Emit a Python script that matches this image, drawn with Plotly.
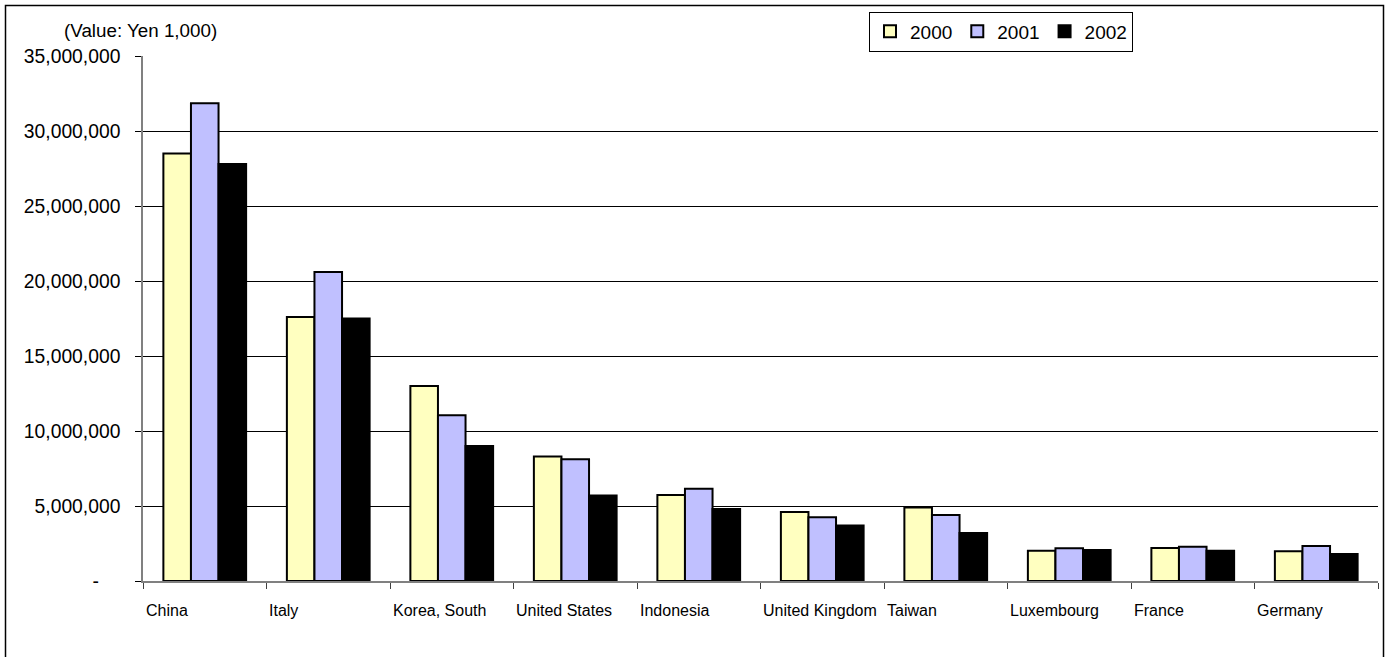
import plotly.graph_objects as go

countries = ["China", "Italy", "Korea, South", "United States", "Indonesia",
             "United Kingdom", "Taiwan", "Luxembourg", "France", "Germany"]
years = ["2000", "2001", "2002"]
v2000 = [28500000, 17600000, 13000000, 8300000, 5730000, 4600000, 4900000, 2020000, 2200000, 1980000]
v2001 = [31850000, 20600000, 11050000, 8120000, 6150000, 4250000, 4400000, 2180000, 2290000, 2330000]
v2002 = [27800000, 17500000, 9000000, 5700000, 4800000, 3700000, 3200000, 2070000, 2020000, 1800000]
ytick_vals = [0, 5000000, 10000000, 15000000, 20000000, 25000000, 30000000, 35000000]
ytick_text = ["-\u00a0\u00a0\u00a0\u00a0", "5,000,000", "10,000,000", "15,000,000",
              "20,000,000", "25,000,000", "30,000,000", "35,000,000"]
colors = ["#FFFFC0", "#C0C0FF", "#000000"]

FONT = "Arial, Liberation Sans, sans-serif"
W, H = 1392, 657
X0, X1, Y0, Y1 = 143, 1378, 56, 581  # plot area in page pixels
L, T, R, B = X0, Y0, W - X1, H - Y1
pw, ph = X1 - X0, Y1 - Y0

def px_x(p):
    return (p - X0) / pw

def px_y(p):
    return (Y1 - p) / ph

fig = go.Figure()
for name, vals, c in zip(years, [v2000, v2001, v2002], colors):
    fig.add_trace(go.Bar(x=countries, y=vals, name=name,
                         marker=dict(color=c, line=dict(color="black", width=2))))

annotations = [dict(text="(Value: Yen 1,000)", x=px_x(62), y=px_y(31), xref="paper", yref="paper",
                    xanchor="left", yanchor="middle", showarrow=False,
                    font=dict(family=FONT, size=18.8, color="black"))]
slot = pw / len(countries)
for c in countries:
    annotations.append(dict(text=c, x=c, y=px_y(610), xref="x", yref="paper",
                            xanchor="left", yanchor="middle", xshift=-slot / 2 + 0.5,
                            showarrow=False, font=dict(family=FONT, size=16, color="black")))

fig.update_layout(
    width=W, height=H,
    margin=dict(l=L, r=R, t=T, b=B, autoexpand=False),
    plot_bgcolor="white", paper_bgcolor="white",
    barmode="group", bargap=0.33, bargroupgap=0,
    font=dict(family=FONT, color="black"),
    showlegend=True,
    legend=dict(orientation="h", x=px_x(869), y=px_y(11.5), xanchor="left", yanchor="top",
                bordercolor="black", borderwidth=1, bgcolor="white",
                font=dict(family=FONT, size=19, color="black"),
                itemwidth=30, tracegroupgap=0),
    annotations=annotations,
    shapes=[dict(type="rect", xref="paper", yref="paper",
                 x0=px_x(5.5), x1=px_x(1383.5), y0=px_y(662), y1=px_y(5.5),
                 line=dict(color="black", width=1.5), fillcolor="rgba(0,0,0,0)", layer="above")],
)
fig.update_xaxes(showticklabels=False, showline=True, linecolor="#808080", linewidth=1.5,
                 ticks="outside", tickson="boundaries", ticklen=6, tickcolor="#404040",
                 showgrid=False)
fig.update_yaxes(range=[0, 35000000], tickvals=ytick_vals, ticktext=ytick_text,
                 showgrid=True, gridcolor="black", gridwidth=1, zeroline=False,
                 showline=True, linecolor="#808080", linewidth=1.5,
                 ticks="outside", ticklen=6, tickcolor="black",
                 ticklabelstandoff=11,
                 tickfont=dict(family=FONT, size=19.3, color="black"))

fig.write_html("out.html", config={"displayModeBar": False},
               post_script="document.body.style.margin='0';document.body.style.overflow='hidden';")
